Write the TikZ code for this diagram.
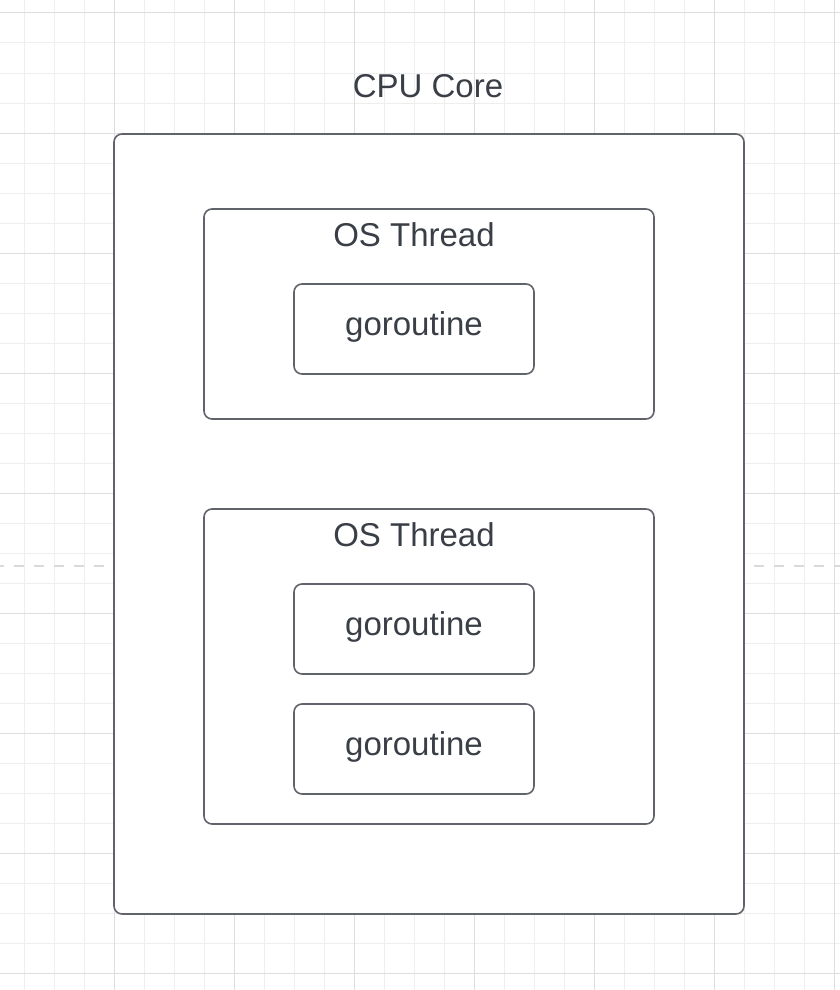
\documentclass[tikz,border=0pt]{standalone}
\usepackage{fontspec}
\setmainfont{Liberation Sans}
\usetikzlibrary{positioning}
\definecolor{coreGray}{RGB}{96,100,106}
\definecolor{labelGray}{RGB}{58,63,71}
\definecolor{gridMinor}{RGB}{238,238,238}
\definecolor{gridMajor}{RGB}{222,222,222}
\definecolor{dashGray}{RGB}{218,218,218}

\begin{document}
\begin{tikzpicture}[x=1pt, y=-1pt,
    every node/.style={font=\fontsize{33}{40}\selectfont, text=labelGray},
    boxshape/.style={draw=coreGray, line width=1.6pt, fill=white, rounded corners=8pt, inner sep=0pt},
    gorobox/.style={boxshape, minimum width=240pt, minimum height=90pt, text depth=11pt},
    gridminor/.style={gridMinor, line width=1pt},
    gridmajor/.style={gridMajor, line width=1pt}]
    \useasboundingbox (0,0) rectangle (840,990);
    \fill[white] (0,0) rectangle (840,990);

    % background grid
    \foreach \gx in {24,54,...,834} \draw[gridminor] (\gx,0) -- (\gx,990);
    \foreach \gy in {13,43,...,973} \draw[gridminor] (0,\gy) -- (840,\gy);
    \foreach \gx in {114,234,...,834} \draw[gridmajor] (\gx,0) -- (\gx,990);
    \foreach \gy in {13,133,...,973} \draw[gridmajor] (0,\gy) -- (840,\gy);
    \coordinate (dashL) at (0,566);
    \coordinate (dashR) at (840,566);
    \draw[dashGray, line width=2.8pt, dash pattern=on 10pt off 10pt, dash phase=6pt] (dashL) -- (dashR);

    \node[boxshape, minimum width=630pt, minimum height=780pt] (core) at (429,524) {};
    \node (corelabel) at (428,86) {CPU Core};

    \node[boxshape, minimum width=450pt, minimum height=210pt] (threadA) at (429,314) {};
    \node (threadAlabel) at (414,235) {OS Thread};
    \node[gorobox] (goA) at (414,329) {goroutine};

    \node[boxshape, minimum width=450pt, minimum height=315pt] (threadB) at (429,666.5) {};
    \node (threadBlabel) at (414,535) {OS Thread};
    \node[gorobox] (goB) at (414,629) {goroutine};
    \node[gorobox, below=28.4pt of goB] (goC) {goroutine};
\end{tikzpicture}
\end{document}
